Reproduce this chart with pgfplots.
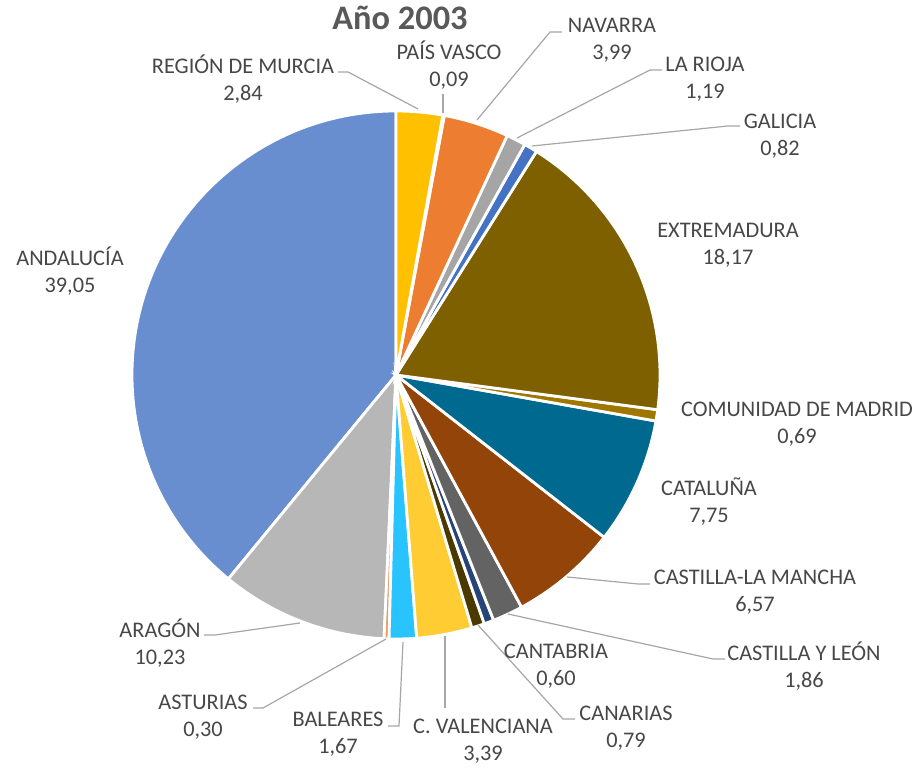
\documentclass[border=0pt]{standalone}
\usepackage{fontspec}
\setmainfont{Carlito}
\usepackage{pgfplots}
\usepackage{pgfplotstable}
\pgfplotsset{compat=1.18}

\definecolor{txt}{HTML}{595959}
\definecolor{lbltxt}{HTML}{474747}
\definecolor{leader}{HTML}{A6A6A6}
\definecolor{cAND}{HTML}{698ED0}
\definecolor{cARA}{HTML}{B7B7B7}
\definecolor{cAST}{HTML}{F1975A}
\definecolor{cBAL}{HTML}{29C3FF}
\definecolor{cVAL}{HTML}{FFCD33}
\definecolor{cCNR}{HTML}{4A3900}
\definecolor{cCNT}{HTML}{264478}
\definecolor{cCYL}{HTML}{636363}
\definecolor{cCLM}{HTML}{934409}
\definecolor{cCAT}{HTML}{00698F}
\definecolor{cMAD}{HTML}{9F7700}
\definecolor{cEXT}{HTML}{7F6000}
\definecolor{cGAL}{HTML}{4472C4}
\definecolor{cRIO}{HTML}{A5A5A5}
\definecolor{cNAV}{HTML}{ED7D31}
\definecolor{cPVA}{HTML}{5B9BD5}
\definecolor{cMUR}{HTML}{FFC000}

\tikzset{
  lbl/.style={anchor=base, text=lbltxt, font=\fontsize{22.4}{25}\selectfont, inner sep=0pt},
  lead/.style={leader, line width=1.2bp}
}

% share (%), slice colour, label centre (x, y of first line, pixels from top)
\pgfplotstableread[col sep=semicolon]{
name;value;col;lx;ly
ANDALUCÍA;39.05;cAND;70;258
ARAGÓN;10.23;cARA;160;630
ASTURIAS;0.30;cAST;203;702
BALEARES;1.67;cBAL;338;719
C. VALENCIANA;3.39;cVAL;483;726
CANARIAS;0.79;cCNR;626;713
CANTABRIA;0.60;cCNT;556;651
CASTILLA Y LEÓN;1.86;cCYL;804;653
CASTILLA-LA MANCHA;6.57;cCLM;755;577
CATALUÑA;7.75;cCAT;709;488
COMUNIDAD DE MADRID;0.69;cMAD;797;409
EXTREMADURA;18.17;cEXT;728;230
GALICIA;0.82;cGAL;780;121
LA RIOJA;1.19;cRIO;705;64
NAVARRA;3.99;cNAV;612;25
PAÍS VASCO;0.09;cPVA;449;52
REGIÓN DE MURCIA;2.84;cMUR;243;66
}\piedata

\pgfkeys{/pgf/number format/.cd,use comma,fixed,fixed zerofill,precision=2,assume math mode=true}

\begin{document}
\begin{tikzpicture}
\begin{axis}[
    x=1bp, y=1bp,
    xmin=0, xmax=919,
    ymin=0, ymax=769,
    hide axis,
    clip=false
]
\path (axis cs:0,0) rectangle (axis cs:919,769);

% wedges, counter-clockwise from 12 o'clock
\pgfplotstablegetrowsof{\piedata}
\pgfmathtruncatemacro{\lastrow}{\pgfplotsretval-1}
\def\wstart{90}
\pgfplotsforeachungrouped \i in {0,...,\lastrow}{%
  \pgfplotstablegetelem{\i}{value}\of{\piedata}\let\val\pgfplotsretval
  \pgfplotstablegetelem{\i}{col}\of{\piedata}\let\wcol\pgfplotsretval
  \pgfmathsetmacro{\wend}{\wstart+3.6*\val}
  \edef\temp{\noexpand\filldraw[fill=\wcol, draw=white, line width=2.8bp]
    (axis cs:396,394) -- ++(\wstart:264bp)
    arc[start angle=\wstart, end angle=\wend, radius=264bp] -- cycle;}
  \temp
  \let\wstart\wend
}

% leader lines
\draw[lead] (axis cs:338,697) -- (axis cs:348,697) -- (axis cs:418,660);
\draw[lead] (axis cs:443,675) -- (axis cs:443,656);
\draw[lead] (axis cs:562,737) -- (axis cs:550,737) -- (axis cs:477,649);
\draw[lead] (axis cs:662,699) -- (axis cs:650,699) -- (axis cs:517,631);
\draw[lead] (axis cs:740,643) -- (axis cs:728,643) -- (axis cs:532,623);
\draw[lead] (axis cs:567,192) -- (axis cs:638,185) -- (axis cs:650,185);
\draw[lead] (axis cs:508,155) -- (axis cs:713,110) -- (axis cs:725,110);
\draw[lead] (axis cs:478,144) -- (axis cs:563,50) -- (axis cs:575,50);
\draw[lead] (axis cs:445,133) -- (axis cs:445,61);
\draw[lead] (axis cs:403,127) -- (axis cs:399,43) -- (axis cs:388,43);
\draw[lead] (axis cs:386,130) -- (axis cs:263,61) -- (axis cs:253,61);
\draw[lead] (axis cs:300,146) -- (axis cs:215,134) -- (axis cs:204,134);

% data labels
\pgfplotsforeachungrouped \i in {0,...,\lastrow}{%
  \pgfplotstablegetelem{\i}{name}\of{\piedata}\let\nm\pgfplotsretval
  \pgfplotstablegetelem{\i}{value}\of{\piedata}\let\val\pgfplotsretval
  \pgfplotstablegetelem{\i}{lx}\of{\piedata}\let\lx\pgfplotsretval
  \pgfplotstablegetelem{\i}{ly}\of{\piedata}\let\ly\pgfplotsretval
  \pgfmathsetmacro{\bA}{769-\ly-7.2}
  \pgfmathsetmacro{\bB}{\bA-27.5}
  \edef\temp{\noexpand\node[lbl] at (axis cs:\lx,\bA) {\nm};
    \noexpand\node[lbl] at (axis cs:\lx,\bB) {\noexpand\pgfmathprintnumber{\val}};}
  \temp
}

\node[anchor=base, text=txt, inner sep=0pt, font=\fontsize{34.5}{38}\selectfont\bfseries]
  at (axis cs:400,739) {Año 2003};
\end{axis}
\end{tikzpicture}
\end{document}
